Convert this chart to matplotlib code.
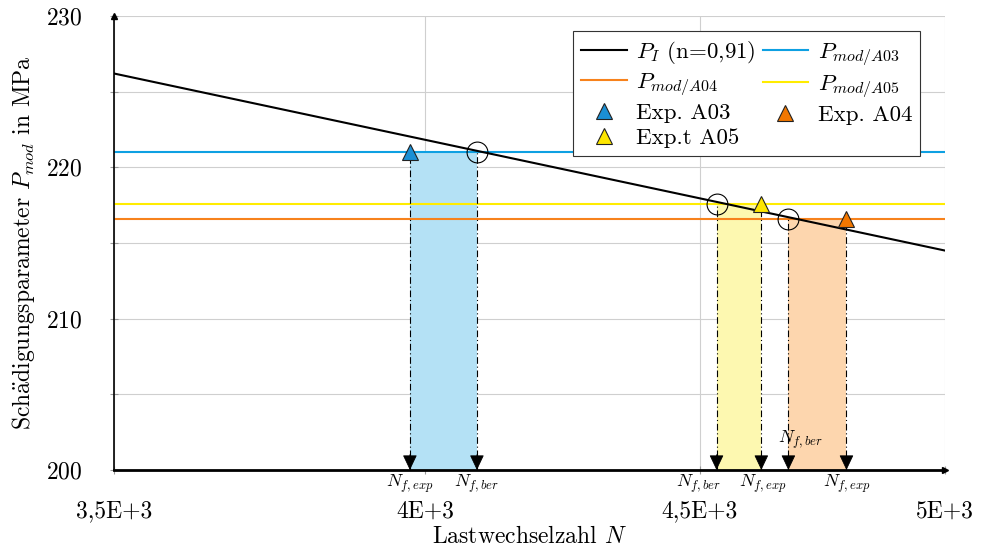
import numpy as np
import matplotlib
matplotlib.use('Agg')
import matplotlib.pyplot as plt
from matplotlib.lines import Line2D

plt.rcParams['font.family'] = ['cmr10', 'DejaVu Serif']
plt.rcParams['mathtext.fontset'] = 'cm'
plt.rcParams['axes.formatter.use_mathtext'] = True

# model curve P_I (n=0,91), read at the axis ends
n_model = [3500, 5000]
p_model = [226.2, 214.5]

# specimens: A03, A04, A05
specimens = ['A03', 'A04', 'A05']
p_mod = [221.0, 216.6, 217.6]      # horizontal P_mod levels
n_exp = [3974, 4793, 4621]         # experimental life (triangles)
n_ber = [4090, 4675, 4533]         # calculated life (circles)

x_ticks = [3500, 4000, 4500, 5000]
x_ticklabels = ['3,5E+3', '4E+3', '4,5E+3', '5E+3']
y_ticks = [200, 210, 220, 230]
y_minor = [205, 215, 225]

line_colors = ['#0ea0e2', '#f7821c', '#ffec00']
marker_colors = ['#1b8fd4', '#f27700', '#fde600']
fill_colors = ['#b4e1f5', '#fdd6ae', '#fdf8b0']

fig = plt.figure(figsize=(9.86, 5.59), dpi=100)
ax = fig.add_axes([0.1156, 0.1592, 0.8428, 0.8122])
ax.set_xscale('log')
ax.set_xlim(3500, 5000)
ax.set_ylim(200, 230)

# grid
ax.set_axisbelow(True)
ax.set_xticks(x_ticks)
ax.set_xticklabels(x_ticklabels)
ax.xaxis.set_minor_locator(matplotlib.ticker.NullLocator())
ax.set_yticks(y_ticks)
ax.set_yticks(y_minor, minor=True)
ax.grid(True, which='both', color='#cfcfcf', lw=0.8)
ax.tick_params(axis='both', which='both', direction='inout', length=6, color='#999999', width=0.8, labelsize=17)
ax.tick_params(axis='x', pad=19)
ax.tick_params(axis='y', pad=20)

for s in ['top', 'right']:
    ax.spines[s].set_visible(False)
ax.spines['left'].set_linewidth(1.2)
ax.spines['bottom'].set_linewidth(2.0)
ax.plot(0, 1, '^k', transform=ax.transAxes, clip_on=False, markersize=5, zorder=6)
ax.plot(1, 0, '>k', transform=ax.transAxes, clip_on=False, markersize=5, zorder=6)

# bands between experiment and calculation
for i in range(3):
    xs = sorted([n_exp[i], n_ber[i]])
    ax.fill_between(xs, 200, p_mod[i], color=fill_colors[i], lw=0, zorder=1)

# horizontal levels and model curve
for i in range(3):
    ax.axhline(p_mod[i], color=line_colors[i], lw=1.5, zorder=2)
ax.plot(n_model, p_model, color='k', lw=1.5, zorder=3)

# drop lines with arrows
for i in range(3):
    for n in (n_exp[i], n_ber[i]):
        ax.plot([n, n], [200, p_mod[i]], color='k', lw=0.8,
                linestyle=(0, (6, 2.5, 1, 2.5)), zorder=3)
        ax.annotate('', xy=(n, 200), xytext=(0, 11), textcoords='offset points',
                    arrowprops=dict(arrowstyle='-|>,head_length=0.95,head_width=0.45',
                                    fc='k', ec='k', lw=0.6, shrinkA=0, shrinkB=0,
                                    mutation_scale=10), zorder=5)

# markers
ax.plot(n_ber, p_mod, 'o', ms=15, mfc='none', mec='k', mew=0.8, zorder=4)
for i in range(3):
    ax.plot(n_exp[i], p_mod[i], '^', ms=11, mfc=marker_colors[i], mec='#222222',
            mew=0.8, zorder=4)

# N_f labels
lab_exp = r'$N_{f,exp}$'
lab_ber = r'$N_{f,ber}$'
labels = [
    (n_exp[0], lab_exp, 0, -10),
    (n_ber[0], lab_ber, 0, -10),
    (n_ber[2], lab_ber, -13, -10),
    (n_exp[2], lab_exp, 1, -10),
    (n_exp[1], lab_exp, 0, -10),
    (n_ber[1], lab_ber, 9, 22),
]
for n, txt, dx, dy in labels:
    ax.annotate(txt, xy=(n, 200), xytext=(dx, dy), textcoords='offset points',
                ha='center', va='center', fontsize=13, annotation_clip=False)

ax.set_xlabel('Lastwechselzahl $N$', fontsize=17, labelpad=2)
ax.set_ylabel(r'Sch$\ddot{\mathrm{a}}$digungsparameter $P_{mod}$ in MPa', fontsize=17, labelpad=6)

handles = [
    Line2D([], [], color='k', lw=1.5, label=r'$P_I$ (n=0,91)'),
    Line2D([], [], color=line_colors[1], lw=1.5, label=r'$P_{mod/A04}$'),
    Line2D([], [], ls='none', marker='^', ms=11, mfc=marker_colors[0], mec='#222222', mew=0.8, label='Exp. A03'),
    Line2D([], [], ls='none', marker='^', ms=11, mfc=marker_colors[2], mec='#222222', mew=0.8, label='Exp.t A05'),
    Line2D([], [], color=line_colors[0], lw=1.5, label=r'$P_{mod/A03}$'),
    Line2D([], [], color=line_colors[2], lw=1.5, label=r'$P_{mod/A05}$'),
    Line2D([], [], ls='none', marker='^', ms=11, mfc=marker_colors[1], mec='#222222', mew=0.8, label='Exp. A04'),
]
leg = ax.legend(handles=handles, ncol=2, loc='upper right', bbox_to_anchor=(0.970, 0.967),
                borderaxespad=0, fontsize=16.5, fancybox=False, framealpha=1,
                edgecolor='#333333', handlelength=2.0, columnspacing=0.3,
                labelspacing=0.22, handletextpad=0.4, borderpad=0.35)
leg.get_frame().set_linewidth(0.8)
leg.set_zorder(10)

fig.savefig('out.png', dpi=100)
